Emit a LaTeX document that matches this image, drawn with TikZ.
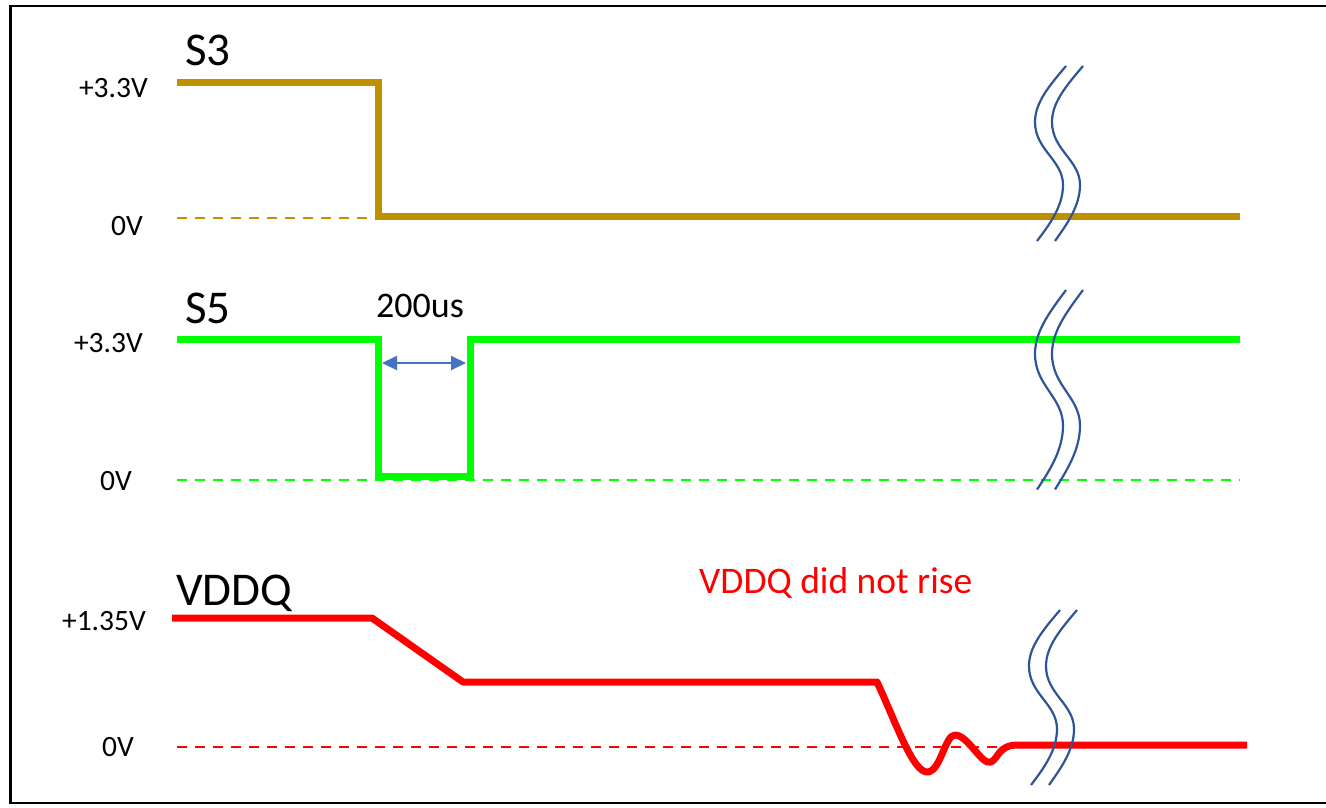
\documentclass[tikz,border=0pt]{standalone}
\usepackage{fontspec}
\setmainfont{Carlito}
\usetikzlibrary{arrows.meta}
\definecolor{sgold}{RGB}{191,144,0}
\definecolor{sgreen}{RGB}{0,255,0}
\definecolor{sred}{RGB}{255,0,0}
\definecolor{arrowblue}{RGB}{68,114,196}
\definecolor{breakblue}{RGB}{47,85,151}
\tikzset{
  trace/.style={line width=7pt, line join=miter},
  zeroline/.style={line width=2.5pt, dash pattern=on 10pt off 8pt},
  lvl/.style={font=\fontsize{29.5}{34}\selectfont, inner sep=0pt, anchor=base east},
  sig/.style={font=\fontsize{47}{54}\selectfont, inner sep=0pt, anchor=base west},
  brk/.style={draw=breakblue, line width=2.2pt},
}
\newcommand{\breakmark}{%
  \draw[brk] (1066,0) .. controls (1050,19) and (1035,36) .. (1035,56)
     .. controls (1035,84) and (1063,94) .. (1063,119)
     .. controls (1063,140) and (1050,158) .. (1037,175);
  \draw[brk] (1083,0) .. controls (1067,19) and (1052,36) .. (1052,56)
     .. controls (1052,84) and (1080,94) .. (1080,119)
     .. controls (1080,140) and (1067,158) .. (1055,175);
}
\begin{document}
\begin{tikzpicture}[x=1pt,y=-1pt]
\useasboundingbox (0,0) rectangle (1326,808);
\fill[white] (0,0) rectangle (1326,808);
% frame
\draw[line width=2.5pt] (1340,6) -- (10.5,6) -- (10.5,803) -- (1340,803);

% ---------- S3 ----------
\node[sig] (s3) at (185,66) {S3};
\node[lvl] (s3hi) at (148,97) {+3.3V};
\node[lvl] (s3lo) at (143,235) {0V};
\draw[zeroline, sgold] (177,218) -- (1240,218);
\draw[trace, sgold] (177,83) -- (378,83) -- (378,216) -- (1240,216);

% ---------- S5 ----------
\node[sig] (s5) at (185,323) {S5};
\node[lvl] (s5hi) at (143,352) {+3.3V};
\node[lvl] (s5lo) at (132,490) {0V};
\draw[zeroline, sgreen] (177,480) -- (1240,480);
\draw[trace, sgreen] (177,339) -- (378,339) -- (378,476) -- (470,476) -- (470,339) -- (1240,339);
\node[font=\fontsize{36}{42}\selectfont, inner sep=0pt, anchor=base west] (t200) at (376,317) {200us};
\coordinate (aL) at (382,363);
\coordinate (aR) at (466,363);
\draw[arrowblue, line width=2pt, {Triangle[length=15pt,width=14pt]}-{Triangle[length=15pt,width=14pt]}] (aL) -- (aR);

% ---------- VDDQ ----------
\node[sig] (vq) at (176,605) {VDDQ};
\node[lvl] (vqhi) at (146,630) {+1.35V};
\node[lvl] (vqlo) at (134,756) {0V};
\node[font=\fontsize{37.5}{43}\selectfont, text=sred, inner sep=0pt, anchor=base west] (note) at (699,593) {VDDQ did not rise};
\draw[zeroline, sred] (177,747) -- (1240,747);
\draw[trace, sred, line join=round] (172,618) -- (372,618) -- (463,682) -- (877,682)
   .. controls (895,720) and (913,774) .. (928,772)
   .. controls (941,770) and (945,735) .. (955,735)
   .. controls (968,735) and (982,766) .. (991,762)
   .. controls (999,758) and (998,745) .. (1018,745) -- (1247,745);

% ---------- breaks ----------
\begin{scope}[shift={(0,66)}]\breakmark\end{scope}
\begin{scope}[shift={(0,290)}, yscale=1.14]\breakmark\end{scope}
\begin{scope}[shift={(-6,610)}]\breakmark\end{scope}
\end{tikzpicture}
\end{document}
